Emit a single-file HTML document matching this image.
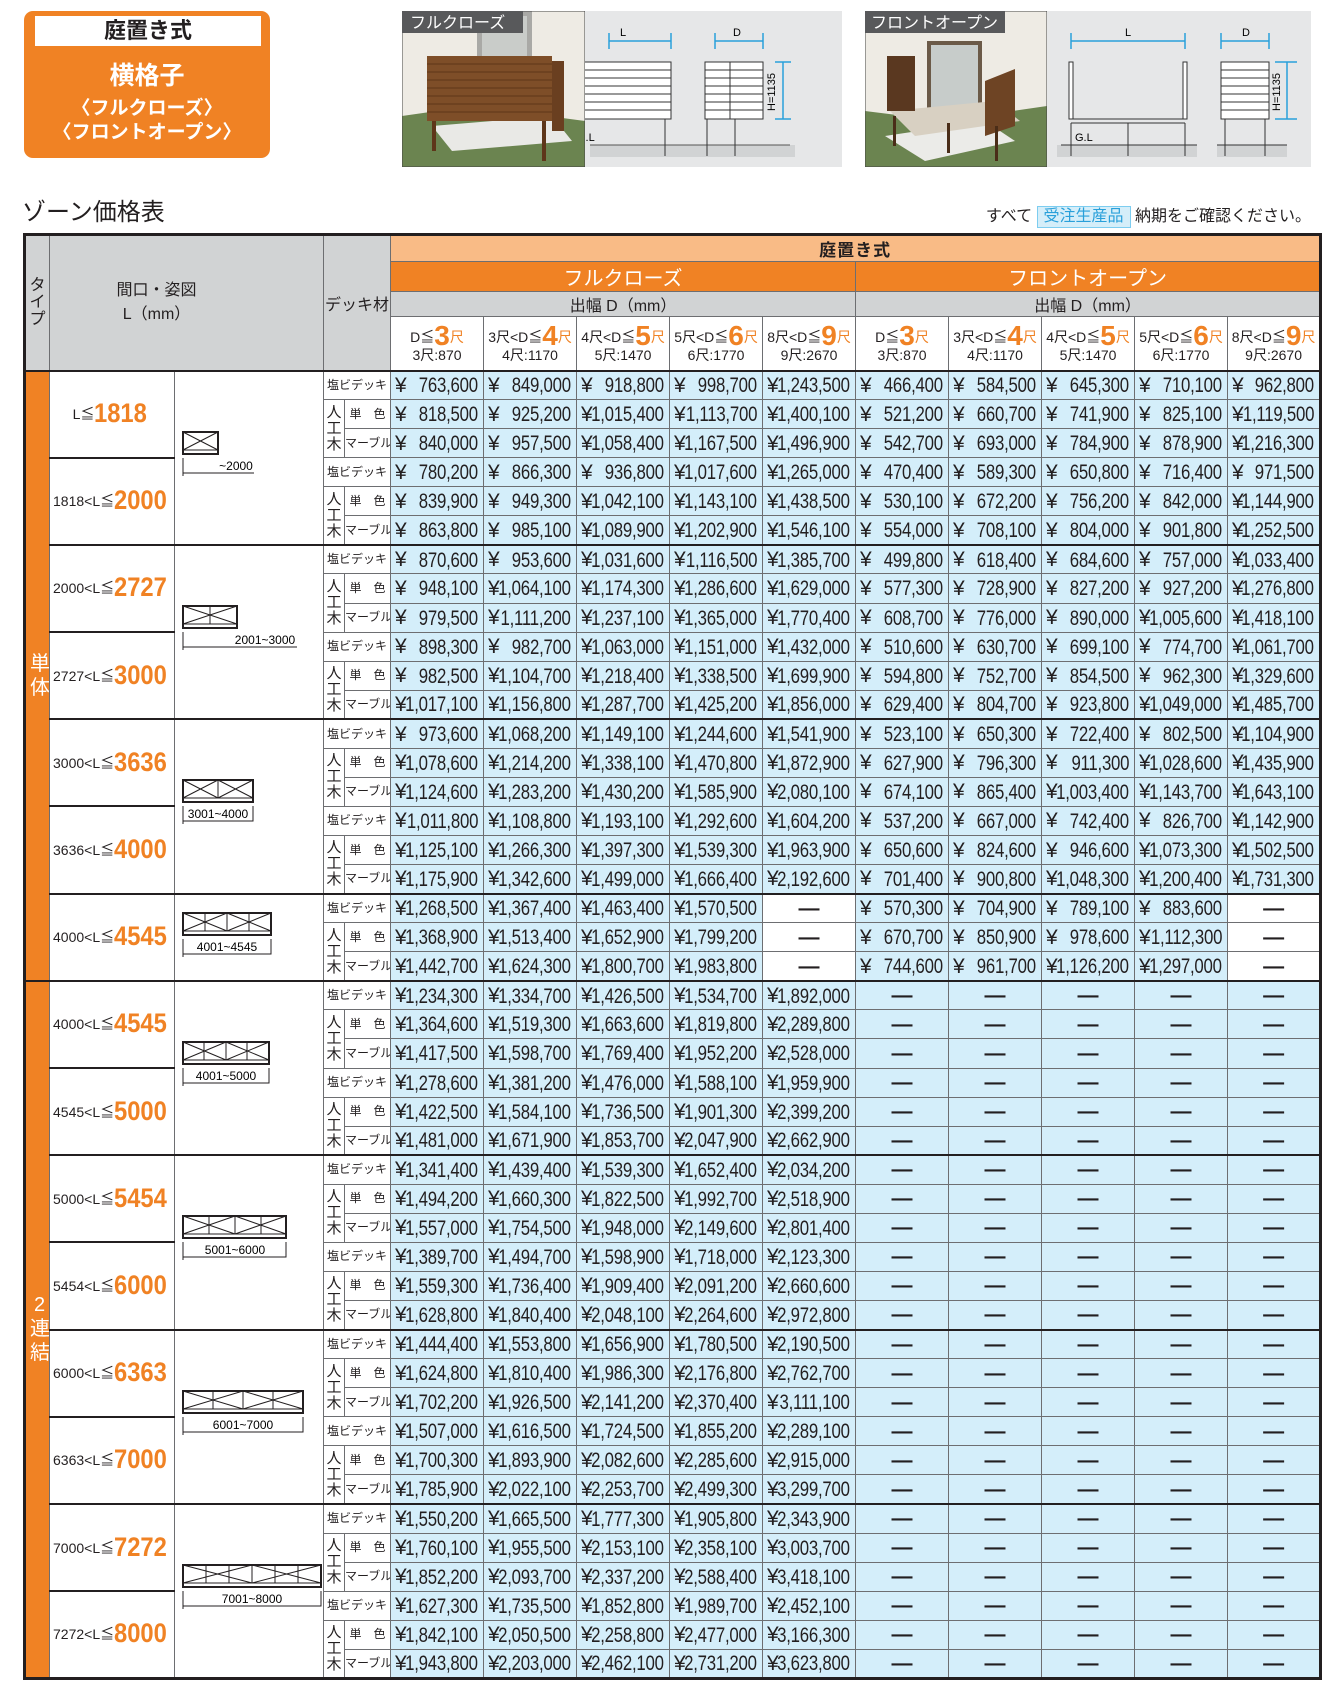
<!DOCTYPE html>
<html><head><meta charset="utf-8">
<style>
*{margin:0;padding:0;box-sizing:border-box}
body{width:1338px;height:1702px;background:#fff;position:relative;overflow:hidden;font-family:"Liberation Sans","Noto Sans CJK JP",sans-serif;color:#231f20}
.abs{position:absolute}
#t{position:absolute;left:23px;top:233px;width:1296px;border-collapse:collapse;table-layout:fixed;border:3px solid #231f20}
#t td{border:1px solid #6d6e71;padding:0;overflow:hidden;white-space:nowrap}
.hg{background:#d1d3d4;text-align:center;font-size:16px}
.ho{background:#f9bb86;text-align:center;font-size:17px;font-weight:bold;letter-spacing:1px}
.hO{background:#f08224;color:#fff;text-align:center;font-size:20px}
.h4{background:#fff;text-align:center;font-size:14px;line-height:18px;padding-top:4px!important}
.h4 .bg{color:#f08224;font-weight:bold;font-size:28px;vertical-align:-3px}
.h4 .o{color:#f08224}
tbody tr{height:29.07px}
tbody td{background:#d4eefa;font-size:21px;line-height:21px;padding-left:4px!important;text-align:left;position:relative}
tbody td b{position:absolute;right:5px;top:50%;margin-top:-10px;font-weight:normal;transform:scaleX(.8);transform-origin:right center;letter-spacing:-.3px}
#t td.ty{background:#f08224;color:#fff;font-size:20px;text-align:center;line-height:24px;border-bottom:2px solid #231f20}
#t td.l{background:#fff;font-size:14px;padding-left:3px!important;border-top:2px solid #231f20}
.l span{color:#f08224;font-weight:bold;font-size:27px;display:inline-block;transform:scaleX(.88);transform-origin:left;vertical-align:-3px}
#t td.dg{background:#fff;vertical-align:middle;border-top:2px solid #231f20}
#t td.k{background:#fff;font-size:12px;text-align:center;padding-left:0!important}
#t td.j{background:#fff;font-size:15px;text-align:center;line-height:16px;padding-left:0!important}
#t td.w{background:#fff;text-align:center;font-weight:bold;padding-left:0!important}
#t td.x{text-align:center;font-weight:bold;padding-left:0!important}
tr.g td{border-top:2px solid #231f20!important}
tr.m td{border-top:1px dashed #555!important}
tr.s td{border-top:1px solid #231f20}
</style></head><body>

<div class="abs" style="left:24px;top:11px;width:246px;height:147px;background:#f08224;border-radius:9px"></div>
<div class="abs" style="left:35px;top:16px;width:226px;height:30px;background:#fff;text-align:center;font-size:22px;font-weight:bold;line-height:30px">庭置き式</div>
<div class="abs" style="left:24px;top:56px;width:246px;text-align:center;color:#fff;font-weight:bold;font-size:25px">横格子</div>
<div class="abs" style="left:24px;top:93px;width:246px;text-align:center;color:#fff;font-weight:bold;font-size:19px">〈フルクローズ〉</div>
<div class="abs" style="left:24px;top:117px;width:246px;text-align:center;color:#fff;font-weight:bold;font-size:19px">〈フロントオープン〉</div>

<svg class="abs" style="left:402px;top:11px" width="183" height="156">
<rect width="183" height="156" fill="#eeebe4"/>
<rect x="75" y="0" width="55" height="70" fill="#a9a9a6"/><rect x="80" y="5" width="45" height="60" fill="#c9ccc9"/>
<polygon points="0,105 70,95 183,110 183,156 0,156" fill="#6b8450"/>
<polygon points="30,115 150,105 170,130 50,140" fill="#e9e9e6"/>
<rect x="25" y="45" width="125" height="65" fill="#7e4e28"/>
<g stroke="#5e3619" stroke-width="1"><line x1="25" y1="53" x2="150" y2="53"/><line x1="25" y1="61" x2="150" y2="61"/><line x1="25" y1="69" x2="150" y2="69"/><line x1="25" y1="77" x2="150" y2="77"/><line x1="25" y1="85" x2="150" y2="85"/><line x1="25" y1="93" x2="150" y2="93"/><line x1="25" y1="101" x2="150" y2="101"/></g>
<rect x="150" y="50" width="12" height="70" fill="#6a3f20"/>
<rect x="30" y="110" width="4" height="30" fill="#5e3619"/><rect x="140" y="110" width="4" height="40" fill="#5e3619"/>
<rect width="183" height="156" fill="none" stroke="#444" stroke-width="1"/>
<rect x="0" y="0" width="121" height="22" fill="#58595b"/>
<text x="8" y="17" fill="#fff" font-size="16" font-family="Liberation Sans,Noto Sans CJK JP,sans-serif">フルクローズ</text>
</svg>
<svg class="abs" style="left:585px;top:11px" width="257" height="156">
<rect width="257" height="156" fill="#e6e7e8"/>
<rect x="5" y="134" width="200" height="12" fill="#d1d3d4"/><rect x="130" y="134" width="80" height="12" fill="#d1d3d4"/>
<line x1="5" y1="134" x2="205" y2="134" stroke="#555"/>
<g stroke="#29a0da" stroke-width="1.5"><line x1="24" y1="30" x2="86" y2="30"/><line x1="24" y1="22" x2="24" y2="38"/><line x1="86" y1="22" x2="86" y2="38"/>
<line x1="130" y1="30" x2="178" y2="30"/><line x1="130" y1="22" x2="130" y2="38"/><line x1="178" y1="22" x2="178" y2="38"/>
<line x1="198" y1="51" x2="198" y2="108"/><line x1="190" y1="51" x2="206" y2="51"/><line x1="190" y1="108" x2="206" y2="108"/></g>
<text x="35" y="25" font-size="11">L</text><text x="148" y="25" font-size="11">D</text>
<rect x="-20" y="51" width="106" height="57" fill="#fff" stroke="#333"/>
<g stroke="#333"><line x1="-20" y1="59" x2="86" y2="59"/><line x1="-20" y1="67" x2="86" y2="67"/><line x1="-20" y1="75" x2="86" y2="75"/><line x1="-20" y1="83" x2="86" y2="83"/><line x1="-20" y1="91" x2="86" y2="91"/><line x1="-20" y1="99" x2="86" y2="99"/>
<line x1="80" y1="108" x2="80" y2="145"/><line x1="122" y1="108" x2="122" y2="145"/><line x1="150" y1="108" x2="150" y2="145"/></g>
<rect x="120" y="51" width="58" height="57" fill="#fff" stroke="#333"/>
<g stroke="#333"><line x1="120" y1="59" x2="178" y2="59"/><line x1="120" y1="67" x2="178" y2="67"/><line x1="120" y1="75" x2="178" y2="75"/><line x1="120" y1="83" x2="178" y2="83"/><line x1="120" y1="91" x2="178" y2="91"/><line x1="120" y1="99" x2="178" y2="99"/><line x1="145" y1="51" x2="145" y2="108"/></g>
<text x="-8" y="130" font-size="11">G.L</text>
<text x="0" y="0" font-size="11" transform="translate(190,100) rotate(-90)">H=1135</text>
</svg>

<svg class="abs" style="left:865px;top:11px" width="182" height="156">
<rect width="182" height="156" fill="#eeebe4"/>
<rect x="62" y="30" width="55" height="75" fill="#6b5a48"/><rect x="66" y="34" width="47" height="67" fill="#c7ccca"/>
<polygon points="0,100 80,110 182,95 182,156 0,156" fill="#6b8450"/>
<polygon points="20,125 120,110 150,130 60,150" fill="#ebebe8"/>
<polygon points="25,100 130,90 155,110 50,125" fill="#d8d0c2"/>
<rect x="22" y="45" width="28" height="55" fill="#5a3820"/>
<polygon points="120,70 150,58 150,115 120,125" fill="#6e4424"/>
<rect x="28" y="105" width="3" height="30" fill="#4a2d18"/><rect x="82" y="112" width="3" height="30" fill="#4a2d18"/><rect x="130" y="115" width="3" height="35" fill="#4a2d18"/>
<rect width="182" height="156" fill="none" stroke="#444"/>
<rect x="0" y="0" width="140" height="22" fill="#58595b"/>
<text x="6" y="17" fill="#fff" font-size="16" font-family="Liberation Sans,Noto Sans CJK JP,sans-serif">フロントオープン</text>
</svg>
<svg class="abs" style="left:1047px;top:11px" width="264" height="156">
<rect width="264" height="156" fill="#e6e7e8"/>
<rect x="10" y="134" width="140" height="12" fill="#d1d3d4"/><rect x="170" y="134" width="70" height="12" fill="#d1d3d4"/>
<g stroke="#29a0da" stroke-width="1.5"><line x1="24" y1="30" x2="138" y2="30"/><line x1="24" y1="22" x2="24" y2="38"/><line x1="138" y1="22" x2="138" y2="38"/>
<line x1="174" y1="30" x2="222" y2="30"/><line x1="174" y1="22" x2="174" y2="38"/><line x1="222" y1="22" x2="222" y2="38"/>
<line x1="240" y1="51" x2="240" y2="108"/><line x1="228" y1="51" x2="250" y2="51"/><line x1="228" y1="108" x2="250" y2="108"/></g>
<text x="78" y="25" font-size="11">L</text><text x="195" y="25" font-size="11">D</text>
<g stroke="#333"><rect x="22" y="51" width="4" height="57" fill="#fff"/><rect x="136" y="51" width="4" height="57" fill="#fff"/>
<line x1="24" y1="108" x2="138" y2="108"/><line x1="24" y1="112" x2="138" y2="112"/>
<line x1="24" y1="112" x2="24" y2="145"/><line x1="81" y1="112" x2="81" y2="145"/><line x1="138" y1="112" x2="138" y2="145"/>
<line x1="14" y1="134" x2="150" y2="134"/><line x1="170" y1="134" x2="240" y2="134"/>
<line x1="178" y1="108" x2="178" y2="145"/><line x1="218" y1="108" x2="218" y2="145"/></g>
<rect x="174" y="51" width="48" height="57" fill="#fff" stroke="#333"/>
<g stroke="#333"><line x1="174" y1="59" x2="222" y2="59"/><line x1="174" y1="67" x2="222" y2="67"/><line x1="174" y1="75" x2="222" y2="75"/><line x1="174" y1="83" x2="222" y2="83"/><line x1="174" y1="91" x2="222" y2="91"/><line x1="174" y1="99" x2="222" y2="99"/></g>
<text x="28" y="130" font-size="11">G.L</text>
<text x="0" y="0" font-size="11" transform="translate(233,100) rotate(-90)">H=1135</text>
</svg>

<div class="abs" style="left:22px;top:198px;font-size:24px;line-height:30px">ゾーン価格表</div>
<div class="abs" style="right:27px;top:205px;font-size:16px;line-height:24px;white-space:nowrap">すべて <span style="display:inline-block;background:#d5eef9;border:1px solid #7dcdf0;color:#29a0da;padding:0 6px;line-height:20px">受注生産品</span> 納期をご確認ください。</div>

<table id="t">
<colgroup><col style="width:25px"><col style="width:125px"><col style="width:149px"><col style="width:21px"><col style="width:46px"><col span="10" style="width:93px"></colgroup>
<thead>
<tr style="height:26px"><td class="hg" rowspan="4" style="font-size:16px;line-height:17px;border-bottom:2px solid #231f20">タ<br>イ<br>プ</td><td class="hg" rowspan="4" colspan="2" style="line-height:24px;padding-right:60px!important;border-bottom:2px solid #231f20">間口・姿図<br>L（mm）</td><td class="hg" rowspan="4" colspan="2" style="border-bottom:2px solid #231f20">デッキ材</td><td class="ho" colspan="10">庭置き式</td></tr>
<tr style="height:30px"><td class="hO" colspan="5">フルクローズ</td><td class="hO" colspan="5">フロントオープン</td></tr>
<tr style="height:24px"><td class="hg" colspan="5">出幅 D（mm）</td><td class="hg" colspan="5">出幅 D（mm）</td></tr>
<tr style="height:54px">
<td class="h4">D≦<span class="bg">3</span><span class="o">尺</span><br>3尺:870</td>
<td class="h4">3尺&lt;D≦<span class="bg">4</span><span class="o">尺</span><br>4尺:1170</td>
<td class="h4">4尺&lt;D≦<span class="bg">5</span><span class="o">尺</span><br>5尺:1470</td>
<td class="h4">5尺&lt;D≦<span class="bg">6</span><span class="o">尺</span><br>6尺:1770</td>
<td class="h4">8尺&lt;D≦<span class="bg">9</span><span class="o">尺</span><br>9尺:2670</td>
<td class="h4">D≦<span class="bg">3</span><span class="o">尺</span><br>3尺:870</td>
<td class="h4">3尺&lt;D≦<span class="bg">4</span><span class="o">尺</span><br>4尺:1170</td>
<td class="h4">4尺&lt;D≦<span class="bg">5</span><span class="o">尺</span><br>5尺:1470</td>
<td class="h4">5尺&lt;D≦<span class="bg">6</span><span class="o">尺</span><br>6尺:1770</td>
<td class="h4">8尺&lt;D≦<span class="bg">9</span><span class="o">尺</span><br>9尺:2670</td>
</tr>
</thead>
<tbody>
<tr class="g"><td class="ty" rowspan="21">単<br>体</td><td class="l" rowspan="3" style="text-align:center">L≦<span>1818</span></td>
<td class="dg" rowspan="6"><svg width="149" height="150"><rect x="4" y="51" width="35" height="22" fill="#fff" stroke="#231f20" stroke-width="2"/><path d="M4 51L39 69M4 69L39 51M4 69H39" stroke="#231f20" fill="none"/><path d="M4 77V95M4 92H75" stroke="#231f20" fill="none"/><text x="57" y="89" font-size="12" text-anchor="middle">~2000</text></svg></td>
<td class="k" colspan="2">塩ビデッキ</td><td>¥<b>763,600</b></td><td>¥<b>849,000</b></td><td>¥<b>918,800</b></td><td>¥<b>998,700</b></td><td>¥<b>1,243,500</b></td><td>¥<b>466,400</b></td><td>¥<b>584,500</b></td><td>¥<b>645,300</b></td><td>¥<b>710,100</b></td><td>¥<b>962,800</b></td></tr>
<tr class="s"><td class="j" rowspan="2">人<br>工<br>木</td><td class="k">単　色</td><td>¥<b>818,500</b></td><td>¥<b>925,200</b></td><td>¥<b>1,015,400</b></td><td>¥<b>1,113,700</b></td><td>¥<b>1,400,100</b></td><td>¥<b>521,200</b></td><td>¥<b>660,700</b></td><td>¥<b>741,900</b></td><td>¥<b>825,100</b></td><td>¥<b>1,119,500</b></td></tr>
<tr class="m"><td class="k">マーブル</td><td>¥<b>840,000</b></td><td>¥<b>957,500</b></td><td>¥<b>1,058,400</b></td><td>¥<b>1,167,500</b></td><td>¥<b>1,496,900</b></td><td>¥<b>542,700</b></td><td>¥<b>693,000</b></td><td>¥<b>784,900</b></td><td>¥<b>878,900</b></td><td>¥<b>1,216,300</b></td></tr>
<tr class="s"><td class="l" rowspan="3">1818&lt;L≦<span>2000</span></td><td class="k" colspan="2">塩ビデッキ</td><td>¥<b>780,200</b></td><td>¥<b>866,300</b></td><td>¥<b>936,800</b></td><td>¥<b>1,017,600</b></td><td>¥<b>1,265,000</b></td><td>¥<b>470,400</b></td><td>¥<b>589,300</b></td><td>¥<b>650,800</b></td><td>¥<b>716,400</b></td><td>¥<b>971,500</b></td></tr>
<tr class="s"><td class="j" rowspan="2">人<br>工<br>木</td><td class="k">単　色</td><td>¥<b>839,900</b></td><td>¥<b>949,300</b></td><td>¥<b>1,042,100</b></td><td>¥<b>1,143,100</b></td><td>¥<b>1,438,500</b></td><td>¥<b>530,100</b></td><td>¥<b>672,200</b></td><td>¥<b>756,200</b></td><td>¥<b>842,000</b></td><td>¥<b>1,144,900</b></td></tr>
<tr class="m"><td class="k">マーブル</td><td>¥<b>863,800</b></td><td>¥<b>985,100</b></td><td>¥<b>1,089,900</b></td><td>¥<b>1,202,900</b></td><td>¥<b>1,546,100</b></td><td>¥<b>554,000</b></td><td>¥<b>708,100</b></td><td>¥<b>804,000</b></td><td>¥<b>901,800</b></td><td>¥<b>1,252,500</b></td></tr>
<tr class="g"><td class="l" rowspan="3">2000&lt;L≦<span>2727</span></td>
<td class="dg" rowspan="6"><svg width="149" height="150"><rect x="4" y="51" width="54" height="22" fill="#fff" stroke="#231f20" stroke-width="2"/><path d="M4 51L58 69M4 69L58 51M4 69H58M31 51V69" stroke="#231f20" fill="none"/><path d="M4 77V95M4 92H118" stroke="#231f20" fill="none"/><text x="86" y="89" font-size="12" text-anchor="middle">2001~3000</text></svg></td>
<td class="k" colspan="2">塩ビデッキ</td><td>¥<b>870,600</b></td><td>¥<b>953,600</b></td><td>¥<b>1,031,600</b></td><td>¥<b>1,116,500</b></td><td>¥<b>1,385,700</b></td><td>¥<b>499,800</b></td><td>¥<b>618,400</b></td><td>¥<b>684,600</b></td><td>¥<b>757,000</b></td><td>¥<b>1,033,400</b></td></tr>
<tr class="s"><td class="j" rowspan="2">人<br>工<br>木</td><td class="k">単　色</td><td>¥<b>948,100</b></td><td>¥<b>1,064,100</b></td><td>¥<b>1,174,300</b></td><td>¥<b>1,286,600</b></td><td>¥<b>1,629,000</b></td><td>¥<b>577,300</b></td><td>¥<b>728,900</b></td><td>¥<b>827,200</b></td><td>¥<b>927,200</b></td><td>¥<b>1,276,800</b></td></tr>
<tr class="m"><td class="k">マーブル</td><td>¥<b>979,500</b></td><td>¥<b>1,111,200</b></td><td>¥<b>1,237,100</b></td><td>¥<b>1,365,000</b></td><td>¥<b>1,770,400</b></td><td>¥<b>608,700</b></td><td>¥<b>776,000</b></td><td>¥<b>890,000</b></td><td>¥<b>1,005,600</b></td><td>¥<b>1,418,100</b></td></tr>
<tr class="s"><td class="l" rowspan="3">2727&lt;L≦<span>3000</span></td><td class="k" colspan="2">塩ビデッキ</td><td>¥<b>898,300</b></td><td>¥<b>982,700</b></td><td>¥<b>1,063,000</b></td><td>¥<b>1,151,000</b></td><td>¥<b>1,432,000</b></td><td>¥<b>510,600</b></td><td>¥<b>630,700</b></td><td>¥<b>699,100</b></td><td>¥<b>774,700</b></td><td>¥<b>1,061,700</b></td></tr>
<tr class="s"><td class="j" rowspan="2">人<br>工<br>木</td><td class="k">単　色</td><td>¥<b>982,500</b></td><td>¥<b>1,104,700</b></td><td>¥<b>1,218,400</b></td><td>¥<b>1,338,500</b></td><td>¥<b>1,699,900</b></td><td>¥<b>594,800</b></td><td>¥<b>752,700</b></td><td>¥<b>854,500</b></td><td>¥<b>962,300</b></td><td>¥<b>1,329,600</b></td></tr>
<tr class="m"><td class="k">マーブル</td><td>¥<b>1,017,100</b></td><td>¥<b>1,156,800</b></td><td>¥<b>1,287,700</b></td><td>¥<b>1,425,200</b></td><td>¥<b>1,856,000</b></td><td>¥<b>629,400</b></td><td>¥<b>804,700</b></td><td>¥<b>923,800</b></td><td>¥<b>1,049,000</b></td><td>¥<b>1,485,700</b></td></tr>
<tr class="g"><td class="l" rowspan="3">3000&lt;L≦<span>3636</span></td>
<td class="dg" rowspan="6"><svg width="149" height="150"><rect x="4" y="51" width="70" height="22" fill="#fff" stroke="#231f20" stroke-width="2"/><path d="M4 51L39 69M4 69L39 51M39 51L74 69M39 69L74 51M4 69H74M39 51V69" stroke="#231f20" fill="none"/><path d="M4 77V95M4 92H74V77" stroke="#231f20" fill="none"/><text x="39" y="89" font-size="12" text-anchor="middle">3001~4000</text></svg></td>
<td class="k" colspan="2">塩ビデッキ</td><td>¥<b>973,600</b></td><td>¥<b>1,068,200</b></td><td>¥<b>1,149,100</b></td><td>¥<b>1,244,600</b></td><td>¥<b>1,541,900</b></td><td>¥<b>523,100</b></td><td>¥<b>650,300</b></td><td>¥<b>722,400</b></td><td>¥<b>802,500</b></td><td>¥<b>1,104,900</b></td></tr>
<tr class="s"><td class="j" rowspan="2">人<br>工<br>木</td><td class="k">単　色</td><td>¥<b>1,078,600</b></td><td>¥<b>1,214,200</b></td><td>¥<b>1,338,100</b></td><td>¥<b>1,470,800</b></td><td>¥<b>1,872,900</b></td><td>¥<b>627,900</b></td><td>¥<b>796,300</b></td><td>¥<b>911,300</b></td><td>¥<b>1,028,600</b></td><td>¥<b>1,435,900</b></td></tr>
<tr class="m"><td class="k">マーブル</td><td>¥<b>1,124,600</b></td><td>¥<b>1,283,200</b></td><td>¥<b>1,430,200</b></td><td>¥<b>1,585,900</b></td><td>¥<b>2,080,100</b></td><td>¥<b>674,100</b></td><td>¥<b>865,400</b></td><td>¥<b>1,003,400</b></td><td>¥<b>1,143,700</b></td><td>¥<b>1,643,100</b></td></tr>
<tr class="s"><td class="l" rowspan="3">3636&lt;L≦<span>4000</span></td><td class="k" colspan="2">塩ビデッキ</td><td>¥<b>1,011,800</b></td><td>¥<b>1,108,800</b></td><td>¥<b>1,193,100</b></td><td>¥<b>1,292,600</b></td><td>¥<b>1,604,200</b></td><td>¥<b>537,200</b></td><td>¥<b>667,000</b></td><td>¥<b>742,400</b></td><td>¥<b>826,700</b></td><td>¥<b>1,142,900</b></td></tr>
<tr class="s"><td class="j" rowspan="2">人<br>工<br>木</td><td class="k">単　色</td><td>¥<b>1,125,100</b></td><td>¥<b>1,266,300</b></td><td>¥<b>1,397,300</b></td><td>¥<b>1,539,300</b></td><td>¥<b>1,963,900</b></td><td>¥<b>650,600</b></td><td>¥<b>824,600</b></td><td>¥<b>946,600</b></td><td>¥<b>1,073,300</b></td><td>¥<b>1,502,500</b></td></tr>
<tr class="m"><td class="k">マーブル</td><td>¥<b>1,175,900</b></td><td>¥<b>1,342,600</b></td><td>¥<b>1,499,000</b></td><td>¥<b>1,666,400</b></td><td>¥<b>2,192,600</b></td><td>¥<b>701,400</b></td><td>¥<b>900,800</b></td><td>¥<b>1,048,300</b></td><td>¥<b>1,200,400</b></td><td>¥<b>1,731,300</b></td></tr>
<tr class="g"><td class="l" rowspan="3">4000&lt;L≦<span>4545</span></td>
<td class="dg" rowspan="3"><svg width="149" height="80"><rect x="4" y="18" width="88" height="22" fill="#fff" stroke="#231f20" stroke-width="2"/><path d="M4 18L48 36M4 36L48 18M48 18L92 36M48 36L92 18M4 36H92M48 18V36M26 18V36M70 18V36" stroke="#231f20" fill="none"/><path d="M4 44V62M4 59H92V44" stroke="#231f20" fill="none"/><text x="48" y="56" font-size="12" text-anchor="middle">4001~4545</text></svg></td>
<td class="k" colspan="2">塩ビデッキ</td><td>¥<b>1,268,500</b></td><td>¥<b>1,367,400</b></td><td>¥<b>1,463,400</b></td><td>¥<b>1,570,500</b></td><td class="w">—</td><td>¥<b>570,300</b></td><td>¥<b>704,900</b></td><td>¥<b>789,100</b></td><td>¥<b>883,600</b></td><td class="w">—</td></tr>
<tr class="s"><td class="j" rowspan="2">人<br>工<br>木</td><td class="k">単　色</td><td>¥<b>1,368,900</b></td><td>¥<b>1,513,400</b></td><td>¥<b>1,652,900</b></td><td>¥<b>1,799,200</b></td><td class="w">—</td><td>¥<b>670,700</b></td><td>¥<b>850,900</b></td><td>¥<b>978,600</b></td><td>¥<b>1,112,300</b></td><td class="w">—</td></tr>
<tr class="m"><td class="k">マーブル</td><td>¥<b>1,442,700</b></td><td>¥<b>1,624,300</b></td><td>¥<b>1,800,700</b></td><td>¥<b>1,983,800</b></td><td class="w">—</td><td>¥<b>744,600</b></td><td>¥<b>961,700</b></td><td>¥<b>1,126,200</b></td><td>¥<b>1,297,000</b></td><td class="w">—</td></tr>
<tr class="g"><td class="ty" rowspan="27" style="border-top:2px solid #231f20">2<br>連<br>結</td><td class="l" rowspan="3">4000&lt;L≦<span>4545</span></td>
<td class="dg" rowspan="6"><svg width="149" height="150"><rect x="4" y="51" width="86" height="22" fill="#fff" stroke="#231f20" stroke-width="2"/><path d="M4 51L47 69M4 69L47 51M47 51L90 69M47 69L90 51M4 69H90M47 51V69M25 51V69M68 51V69" stroke="#231f20" fill="none"/><path d="M4 77V95M4 92H90V77" stroke="#231f20" fill="none"/><text x="47" y="89" font-size="12" text-anchor="middle">4001~5000</text></svg></td>
<td class="k" colspan="2">塩ビデッキ</td><td>¥<b>1,234,300</b></td><td>¥<b>1,334,700</b></td><td>¥<b>1,426,500</b></td><td>¥<b>1,534,700</b></td><td>¥<b>1,892,000</b></td><td class="x">—</td><td class="x">—</td><td class="x">—</td><td class="x">—</td><td class="x">—</td></tr>
<tr class="s"><td class="j" rowspan="2">人<br>工<br>木</td><td class="k">単　色</td><td>¥<b>1,364,600</b></td><td>¥<b>1,519,300</b></td><td>¥<b>1,663,600</b></td><td>¥<b>1,819,800</b></td><td>¥<b>2,289,800</b></td><td class="x">—</td><td class="x">—</td><td class="x">—</td><td class="x">—</td><td class="x">—</td></tr>
<tr class="m"><td class="k">マーブル</td><td>¥<b>1,417,500</b></td><td>¥<b>1,598,700</b></td><td>¥<b>1,769,400</b></td><td>¥<b>1,952,200</b></td><td>¥<b>2,528,000</b></td><td class="x">—</td><td class="x">—</td><td class="x">—</td><td class="x">—</td><td class="x">—</td></tr>
<tr class="s"><td class="l" rowspan="3">4545&lt;L≦<span>5000</span></td><td class="k" colspan="2">塩ビデッキ</td><td>¥<b>1,278,600</b></td><td>¥<b>1,381,200</b></td><td>¥<b>1,476,000</b></td><td>¥<b>1,588,100</b></td><td>¥<b>1,959,900</b></td><td class="x">—</td><td class="x">—</td><td class="x">—</td><td class="x">—</td><td class="x">—</td></tr>
<tr class="s"><td class="j" rowspan="2">人<br>工<br>木</td><td class="k">単　色</td><td>¥<b>1,422,500</b></td><td>¥<b>1,584,100</b></td><td>¥<b>1,736,500</b></td><td>¥<b>1,901,300</b></td><td>¥<b>2,399,200</b></td><td class="x">—</td><td class="x">—</td><td class="x">—</td><td class="x">—</td><td class="x">—</td></tr>
<tr class="m"><td class="k">マーブル</td><td>¥<b>1,481,000</b></td><td>¥<b>1,671,900</b></td><td>¥<b>1,853,700</b></td><td>¥<b>2,047,900</b></td><td>¥<b>2,662,900</b></td><td class="x">—</td><td class="x">—</td><td class="x">—</td><td class="x">—</td><td class="x">—</td></tr>
<tr class="g"><td class="l" rowspan="3">5000&lt;L≦<span>5454</span></td>
<td class="dg" rowspan="6"><svg width="149" height="150"><rect x="4" y="51" width="103" height="22" fill="#fff" stroke="#231f20" stroke-width="2"/><path d="M4 51L56 69M4 69L56 51M56 51L107 69M56 69L107 51M4 69H107M56 51V69M30 51V69M82 51V69" stroke="#231f20" fill="none"/><path d="M4 77V95M4 92H107V77" stroke="#231f20" fill="none"/><text x="56" y="89" font-size="12" text-anchor="middle">5001~6000</text></svg></td>
<td class="k" colspan="2">塩ビデッキ</td><td>¥<b>1,341,400</b></td><td>¥<b>1,439,400</b></td><td>¥<b>1,539,300</b></td><td>¥<b>1,652,400</b></td><td>¥<b>2,034,200</b></td><td class="x">—</td><td class="x">—</td><td class="x">—</td><td class="x">—</td><td class="x">—</td></tr>
<tr class="s"><td class="j" rowspan="2">人<br>工<br>木</td><td class="k">単　色</td><td>¥<b>1,494,200</b></td><td>¥<b>1,660,300</b></td><td>¥<b>1,822,500</b></td><td>¥<b>1,992,700</b></td><td>¥<b>2,518,900</b></td><td class="x">—</td><td class="x">—</td><td class="x">—</td><td class="x">—</td><td class="x">—</td></tr>
<tr class="m"><td class="k">マーブル</td><td>¥<b>1,557,000</b></td><td>¥<b>1,754,500</b></td><td>¥<b>1,948,000</b></td><td>¥<b>2,149,600</b></td><td>¥<b>2,801,400</b></td><td class="x">—</td><td class="x">—</td><td class="x">—</td><td class="x">—</td><td class="x">—</td></tr>
<tr class="s"><td class="l" rowspan="3">5454&lt;L≦<span>6000</span></td><td class="k" colspan="2">塩ビデッキ</td><td>¥<b>1,389,700</b></td><td>¥<b>1,494,700</b></td><td>¥<b>1,598,900</b></td><td>¥<b>1,718,000</b></td><td>¥<b>2,123,300</b></td><td class="x">—</td><td class="x">—</td><td class="x">—</td><td class="x">—</td><td class="x">—</td></tr>
<tr class="s"><td class="j" rowspan="2">人<br>工<br>木</td><td class="k">単　色</td><td>¥<b>1,559,300</b></td><td>¥<b>1,736,400</b></td><td>¥<b>1,909,400</b></td><td>¥<b>2,091,200</b></td><td>¥<b>2,660,600</b></td><td class="x">—</td><td class="x">—</td><td class="x">—</td><td class="x">—</td><td class="x">—</td></tr>
<tr class="m"><td class="k">マーブル</td><td>¥<b>1,628,800</b></td><td>¥<b>1,840,400</b></td><td>¥<b>2,048,100</b></td><td>¥<b>2,264,600</b></td><td>¥<b>2,972,800</b></td><td class="x">—</td><td class="x">—</td><td class="x">—</td><td class="x">—</td><td class="x">—</td></tr>
<tr class="g"><td class="l" rowspan="3">6000&lt;L≦<span>6363</span></td>
<td class="dg" rowspan="6"><svg width="149" height="150"><rect x="4" y="51" width="120" height="22" fill="#fff" stroke="#231f20" stroke-width="2"/><path d="M4 51L64 69M4 69L64 51M64 51L124 69M64 69L124 51M4 69H124M64 51V69M34 51V69M94 51V69" stroke="#231f20" fill="none"/><path d="M4 77V95M4 92H124V77" stroke="#231f20" fill="none"/><text x="64" y="89" font-size="12" text-anchor="middle">6001~7000</text></svg></td>
<td class="k" colspan="2">塩ビデッキ</td><td>¥<b>1,444,400</b></td><td>¥<b>1,553,800</b></td><td>¥<b>1,656,900</b></td><td>¥<b>1,780,500</b></td><td>¥<b>2,190,500</b></td><td class="x">—</td><td class="x">—</td><td class="x">—</td><td class="x">—</td><td class="x">—</td></tr>
<tr class="s"><td class="j" rowspan="2">人<br>工<br>木</td><td class="k">単　色</td><td>¥<b>1,624,800</b></td><td>¥<b>1,810,400</b></td><td>¥<b>1,986,300</b></td><td>¥<b>2,176,800</b></td><td>¥<b>2,762,700</b></td><td class="x">—</td><td class="x">—</td><td class="x">—</td><td class="x">—</td><td class="x">—</td></tr>
<tr class="m"><td class="k">マーブル</td><td>¥<b>1,702,200</b></td><td>¥<b>1,926,500</b></td><td>¥<b>2,141,200</b></td><td>¥<b>2,370,400</b></td><td>¥<b>3,111,100</b></td><td class="x">—</td><td class="x">—</td><td class="x">—</td><td class="x">—</td><td class="x">—</td></tr>
<tr class="s"><td class="l" rowspan="3">6363&lt;L≦<span>7000</span></td><td class="k" colspan="2">塩ビデッキ</td><td>¥<b>1,507,000</b></td><td>¥<b>1,616,500</b></td><td>¥<b>1,724,500</b></td><td>¥<b>1,855,200</b></td><td>¥<b>2,289,100</b></td><td class="x">—</td><td class="x">—</td><td class="x">—</td><td class="x">—</td><td class="x">—</td></tr>
<tr class="s"><td class="j" rowspan="2">人<br>工<br>木</td><td class="k">単　色</td><td>¥<b>1,700,300</b></td><td>¥<b>1,893,900</b></td><td>¥<b>2,082,600</b></td><td>¥<b>2,285,600</b></td><td>¥<b>2,915,000</b></td><td class="x">—</td><td class="x">—</td><td class="x">—</td><td class="x">—</td><td class="x">—</td></tr>
<tr class="m"><td class="k">マーブル</td><td>¥<b>1,785,900</b></td><td>¥<b>2,022,100</b></td><td>¥<b>2,253,700</b></td><td>¥<b>2,499,300</b></td><td>¥<b>3,299,700</b></td><td class="x">—</td><td class="x">—</td><td class="x">—</td><td class="x">—</td><td class="x">—</td></tr>
<tr class="g"><td class="l" rowspan="3">7000&lt;L≦<span>7272</span></td>
<td class="dg" rowspan="6"><svg width="149" height="150"><rect x="4" y="51" width="138" height="22" fill="#fff" stroke="#231f20" stroke-width="2"/><path d="M4 51L73 69M4 69L73 51M73 51L142 69M73 69L142 51M4 69H142M73 51V69M27 51V69M50 51V69M96 51V69M119 51V69" stroke="#231f20" fill="none"/><path d="M4 77V95M4 92H142V77" stroke="#231f20" fill="none"/><text x="73" y="89" font-size="12" text-anchor="middle">7001~8000</text></svg></td>
<td class="k" colspan="2">塩ビデッキ</td><td>¥<b>1,550,200</b></td><td>¥<b>1,665,500</b></td><td>¥<b>1,777,300</b></td><td>¥<b>1,905,800</b></td><td>¥<b>2,343,900</b></td><td class="x">—</td><td class="x">—</td><td class="x">—</td><td class="x">—</td><td class="x">—</td></tr>
<tr class="s"><td class="j" rowspan="2">人<br>工<br>木</td><td class="k">単　色</td><td>¥<b>1,760,100</b></td><td>¥<b>1,955,500</b></td><td>¥<b>2,153,100</b></td><td>¥<b>2,358,100</b></td><td>¥<b>3,003,700</b></td><td class="x">—</td><td class="x">—</td><td class="x">—</td><td class="x">—</td><td class="x">—</td></tr>
<tr class="m"><td class="k">マーブル</td><td>¥<b>1,852,200</b></td><td>¥<b>2,093,700</b></td><td>¥<b>2,337,200</b></td><td>¥<b>2,588,400</b></td><td>¥<b>3,418,100</b></td><td class="x">—</td><td class="x">—</td><td class="x">—</td><td class="x">—</td><td class="x">—</td></tr>
<tr class="s"><td class="l" rowspan="3">7272&lt;L≦<span>8000</span></td><td class="k" colspan="2">塩ビデッキ</td><td>¥<b>1,627,300</b></td><td>¥<b>1,735,500</b></td><td>¥<b>1,852,800</b></td><td>¥<b>1,989,700</b></td><td>¥<b>2,452,100</b></td><td class="x">—</td><td class="x">—</td><td class="x">—</td><td class="x">—</td><td class="x">—</td></tr>
<tr class="s"><td class="j" rowspan="2">人<br>工<br>木</td><td class="k">単　色</td><td>¥<b>1,842,100</b></td><td>¥<b>2,050,500</b></td><td>¥<b>2,258,800</b></td><td>¥<b>2,477,000</b></td><td>¥<b>3,166,300</b></td><td class="x">—</td><td class="x">—</td><td class="x">—</td><td class="x">—</td><td class="x">—</td></tr>
<tr class="m"><td class="k">マーブル</td><td>¥<b>1,943,800</b></td><td>¥<b>2,203,000</b></td><td>¥<b>2,462,100</b></td><td>¥<b>2,731,200</b></td><td>¥<b>3,623,800</b></td><td class="x">—</td><td class="x">—</td><td class="x">—</td><td class="x">—</td><td class="x">—</td></tr>
</tbody>
</table>
</body></html>
